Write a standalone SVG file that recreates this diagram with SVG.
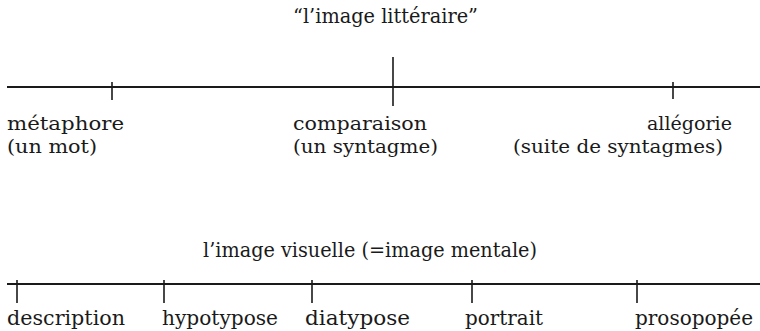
<svg xmlns="http://www.w3.org/2000/svg" width="760" height="331" viewBox="0 0 760 331">
<style>
text{font-family:"DejaVu Serif","Liberation Serif",serif;font-size:20px;fill:#1a1a1a}
.sm{font-size:19px}
.ax{stroke:#1a1a1a;stroke-width:2;fill:none}
.tk{stroke:#1a1a1a;stroke-width:1.6;fill:none}
</style>
<rect width="760" height="331" fill="#fff"/>
<g id="connectors">
<line class="ax" x1="7" y1="87" x2="760" y2="87"/>
<line class="tk" x1="112" y1="82" x2="112" y2="100"/>
<line class="tk" x1="393" y1="57" x2="393" y2="106"/>
<line class="tk" x1="673" y1="82" x2="673" y2="99"/>
<line class="ax" x1="7" y1="284" x2="760" y2="284"/>
<line class="tk" x1="17" y1="280" x2="17" y2="303"/>
<line class="tk" x1="164" y1="280" x2="164" y2="303"/>
<line class="tk" x1="312" y1="280" x2="312" y2="303"/>
<line class="tk" x1="472" y1="280" x2="472" y2="303"/>
<line class="tk" x1="637" y1="280" x2="637" y2="303"/>
</g>
<g id="title-litteraire"><text x="293" y="23" textLength="185" lengthAdjust="spacingAndGlyphs">“l’image littéraire”</text></g>
<g id="metaphore"><text class="sm" x="7" y="130" textLength="117" lengthAdjust="spacingAndGlyphs">métaphore</text><text class="sm" x="7" y="152.5" textLength="90" lengthAdjust="spacingAndGlyphs">(un mot)</text></g>
<g id="comparaison"><text class="sm" x="293" y="130" textLength="134" lengthAdjust="spacingAndGlyphs">comparaison</text><text class="sm" x="293" y="152.5" textLength="145" lengthAdjust="spacingAndGlyphs">(un syntagme)</text></g>
<g id="allegorie"><text class="sm" x="647" y="130" textLength="85" lengthAdjust="spacingAndGlyphs">allégorie</text><text class="sm" x="513" y="152.5" textLength="210" lengthAdjust="spacingAndGlyphs">(suite de syntagmes)</text></g>
<g id="title-visuelle"><text x="203" y="257" textLength="334" lengthAdjust="spacingAndGlyphs">l’image visuelle (=image mentale)</text></g>
<g id="description"><text x="7" y="325" textLength="118" lengthAdjust="spacingAndGlyphs">description</text></g>
<g id="hypotypose"><text x="162" y="325" textLength="116" lengthAdjust="spacingAndGlyphs">hypotypose</text></g>
<g id="diatypose"><text x="305" y="325" textLength="105" lengthAdjust="spacingAndGlyphs">diatypose</text></g>
<g id="portrait"><text x="465" y="325" textLength="78" lengthAdjust="spacingAndGlyphs">portrait</text></g>
<g id="prosopopee"><text x="635" y="325" textLength="118" lengthAdjust="spacingAndGlyphs">prosopopée</text></g>
</svg>
